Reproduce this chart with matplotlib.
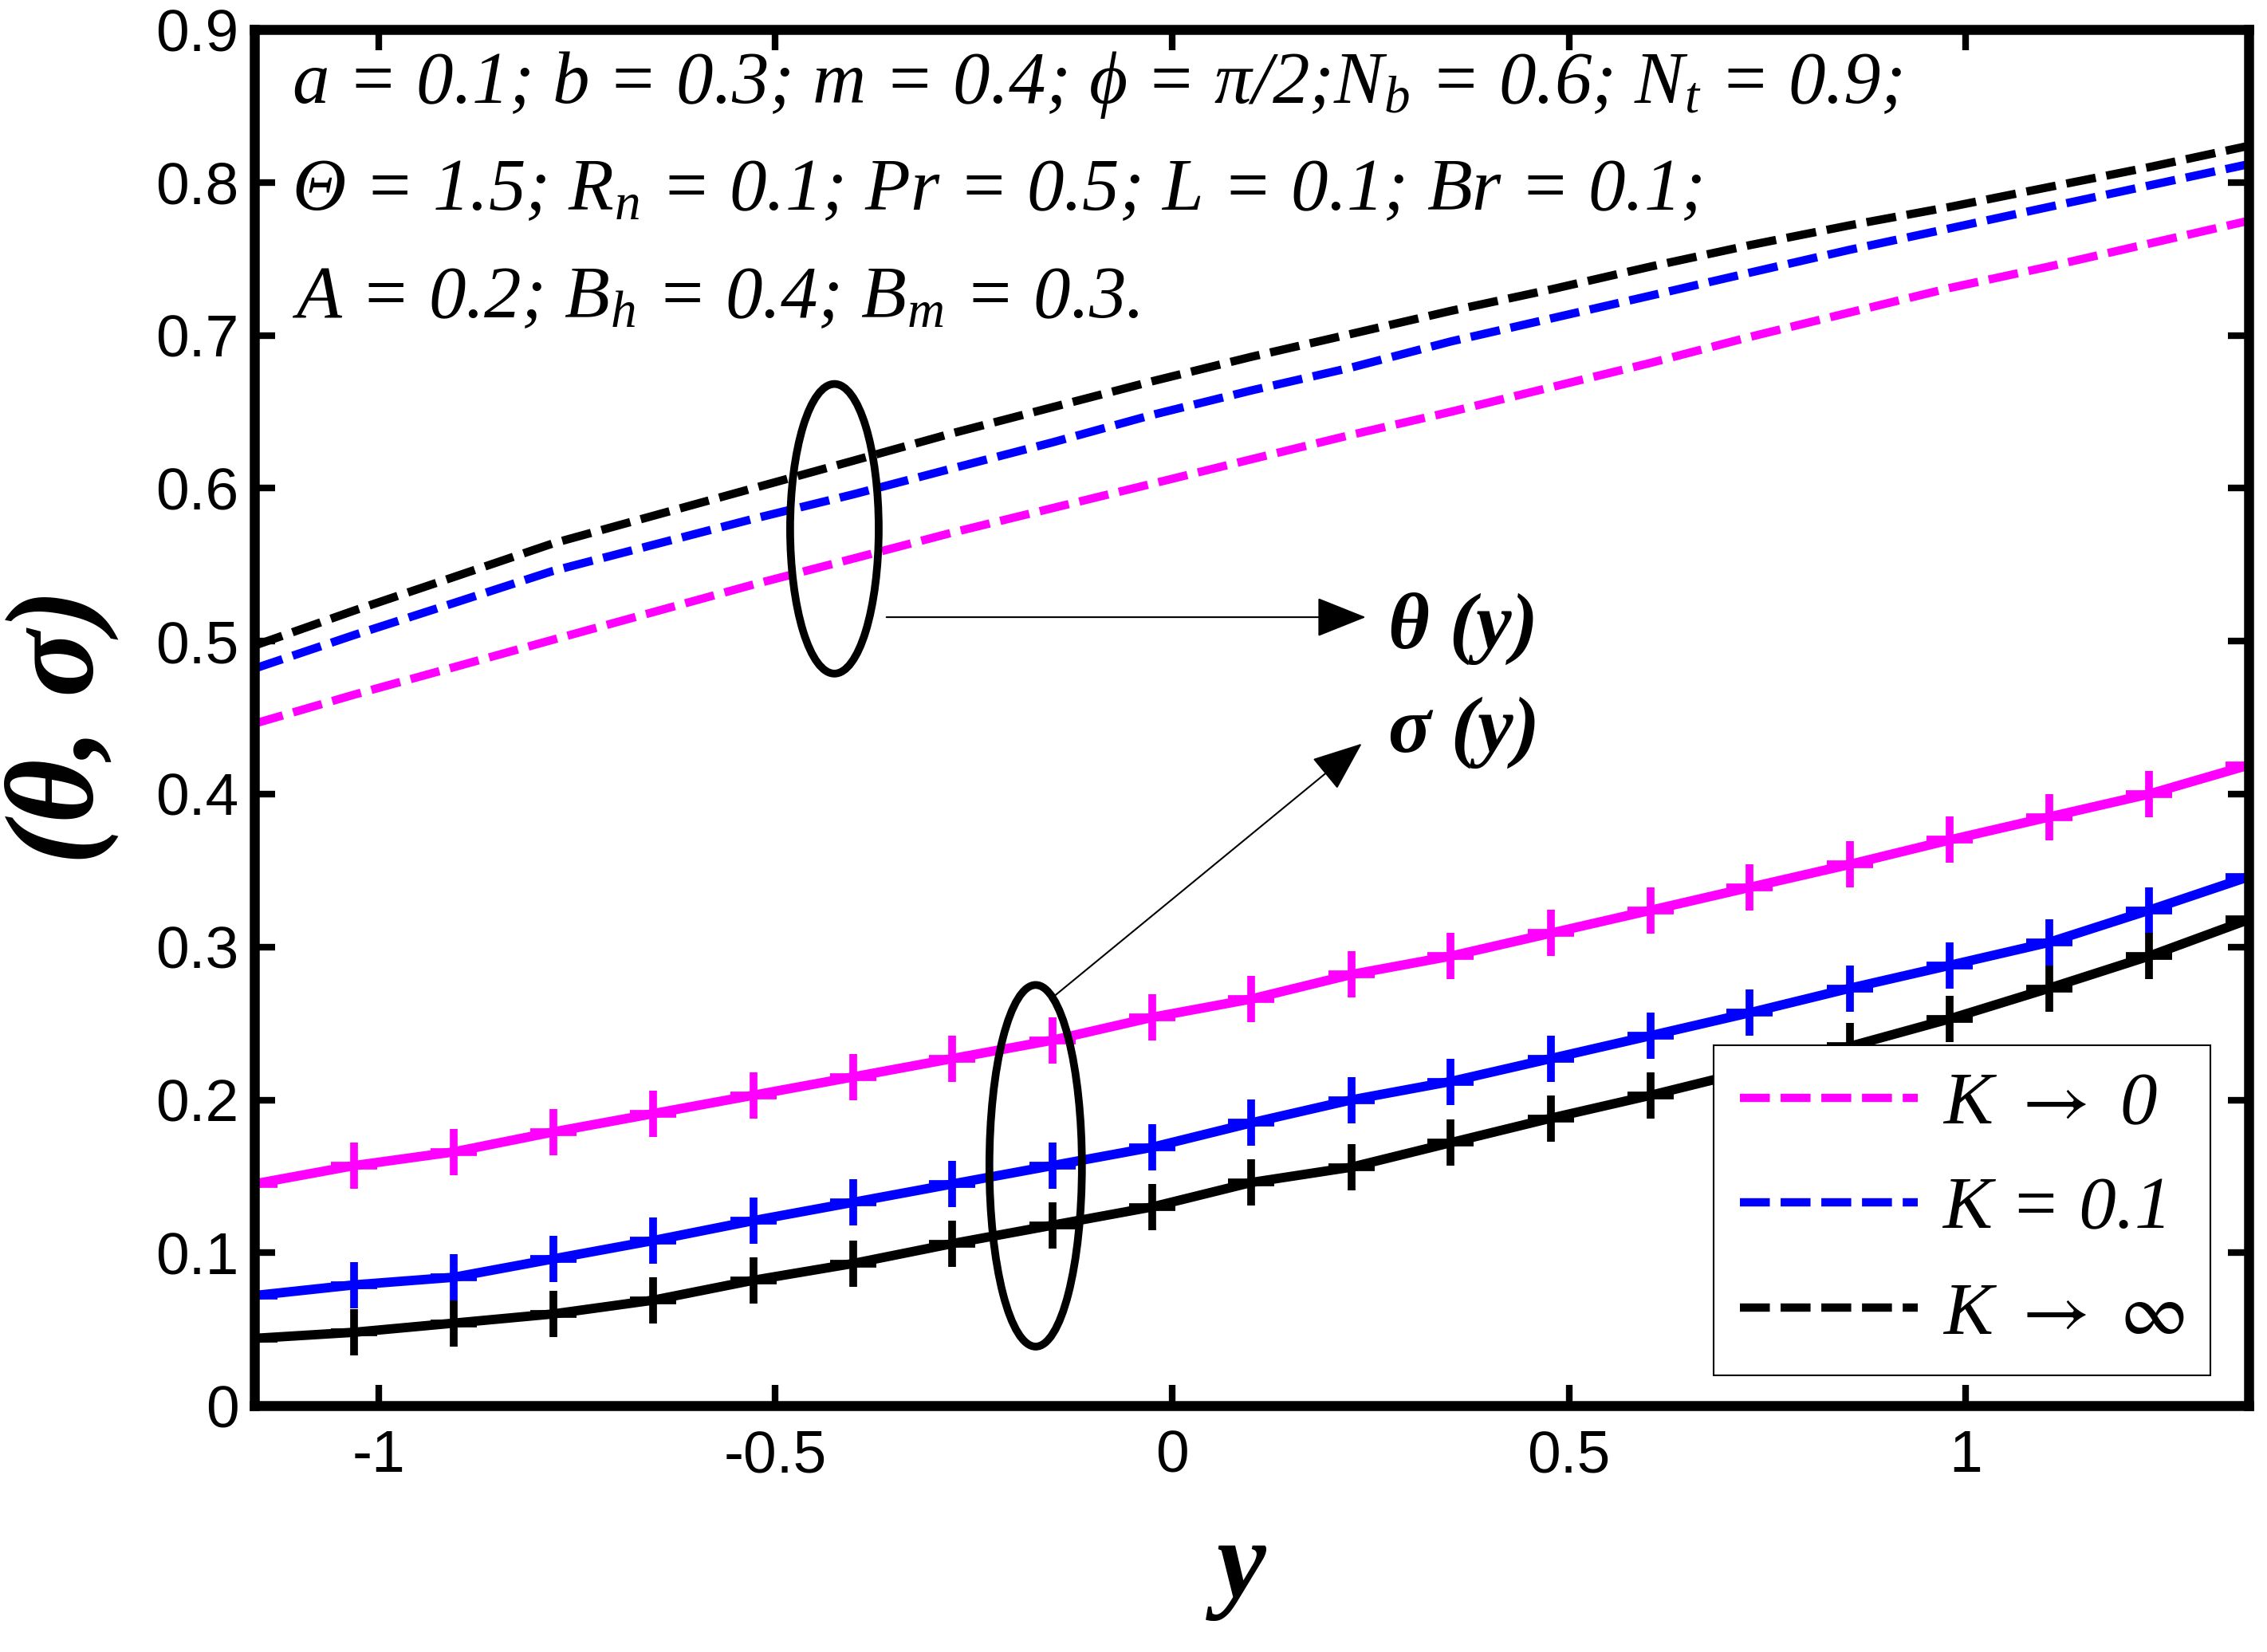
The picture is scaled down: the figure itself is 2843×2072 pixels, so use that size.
import matplotlib
matplotlib.use('Agg')
import matplotlib.pyplot as plt
from matplotlib.patches import Ellipse

plt.rcParams['mathtext.fontset'] = 'custom'
plt.rcParams['mathtext.it'] = 'Liberation Serif:italic'
plt.rcParams['mathtext.rm'] = 'Liberation Serif:italic'
plt.rcParams['mathtext.default'] = 'it'
plt.rcParams['axes.unicode_minus'] = False

# sample points across the channel (y)
y_pts = [-1.157, -1.031, -0.905, -0.780, -0.654, -0.528, -0.402, -0.277, -0.151, -0.025,
         0.100, 0.226, 0.351, 0.477, 0.603, 0.728, 0.854, 0.980, 1.105, 1.231, 1.357]

# temperature theta(y), dashed curves
theta_k0 = [0.446, 0.465, 0.483, 0.501, 0.519, 0.537, 0.554, 0.571, 0.587, 0.603,
            0.619, 0.635, 0.650, 0.666, 0.682, 0.699, 0.715, 0.731, 0.745, 0.760, 0.775]
theta_k01 = [0.482, 0.504, 0.525, 0.546, 0.563, 0.580, 0.596, 0.613, 0.630, 0.648,
             0.664, 0.679, 0.696, 0.711, 0.726, 0.741, 0.756, 0.770, 0.784, 0.798, 0.812]
theta_kinf = [0.497, 0.520, 0.542, 0.564, 0.582, 0.600, 0.618, 0.636, 0.653, 0.670,
              0.686, 0.701, 0.716, 0.730, 0.745, 0.759, 0.772, 0.784, 0.797, 0.810, 0.824]

# concentration sigma(y), solid curves with + markers
sigma_k0 = [0.145, 0.157, 0.166, 0.179, 0.191, 0.203, 0.215, 0.227, 0.239, 0.254,
            0.266, 0.282, 0.294, 0.309, 0.324, 0.339, 0.354, 0.370, 0.385, 0.400, 0.419]
sigma_k01 = [0.072, 0.079, 0.084, 0.096, 0.108, 0.121, 0.133, 0.145, 0.157, 0.169,
             0.185, 0.200, 0.212, 0.227, 0.242, 0.257, 0.273, 0.288, 0.303, 0.324, 0.346]
sigma_kinf = [0.044, 0.048, 0.054, 0.060, 0.069, 0.082, 0.093, 0.106, 0.118, 0.130,
              0.146, 0.156, 0.172, 0.188, 0.203, 0.219, 0.235, 0.253, 0.273, 0.294, 0.318]

labels = ['K $\\rightarrow$ 0', 'K = 0.1', 'K $\\rightarrow$ $\\infty$']
colors = ['#ff00ff', '#0000ff', '#000000']

x_ticks = [-1, -0.5, 0, 0.5, 1]
x_ticklabels = ['-1', '-0.5', '0', '0.5', '1']
y_ticks = [0, 0.1, 0.2, 0.3, 0.4, 0.5, 0.6, 0.7, 0.8, 0.9]
y_ticklabels = ['0', '0.1', '0.2', '0.3', '0.4', '0.5', '0.6', '0.7', '0.8', '0.9']

param_lines = [
    'a = 0.1; b = 0.3; m = 0.4; $\\phi$ = $\\pi$/2;N$_b$ = 0.6; N$_t$ = 0.9;',
    '\u0398 = 1.5; R$_n$ = 0.1; Pr = 0.5; L = 0.1; Br = 0.1;',
    'A = 0.2; B$_h$ = 0.4; B$_m$ = 0.3.',
]

fig = plt.figure(figsize=(28.43, 20.72), dpi=100)
ax = fig.add_axes([0.1122, 0.1491, 0.8797, 0.8330])

theta_sets = [theta_k0, theta_k01, theta_kinf]
sigma_sets = [sigma_k0, sigma_k01, sigma_kinf]
handles = []
for th, sg, c, lab in zip(theta_sets, sigma_sets, colors, labels):
    ax.plot(y_pts, sg, '-', color=c, lw=8.5, marker='+', ms=42, mew=7)
    h, = ax.plot(y_pts, th, color=c, lw=7.5, ls=(0, (3.6, 1.3)), label=lab)
    handles.append(h)

ax.set_xlim(-1.1566, 1.3566)
ax.set_ylim(0, 0.9)
ax.set_xticks(x_ticks)
ax.set_xticklabels(x_ticklabels)
ax.set_yticks(y_ticks)
ax.set_yticklabels(y_ticklabels)
ax.tick_params(direction='in', length=19, width=6, top=True, right=True,
               labelsize=54)
ax.tick_params(axis='x', pad=21)
ax.tick_params(axis='y', pad=14)
for lab in ax.get_xticklabels() + ax.get_yticklabels():
    lab.set_family('Liberation Sans')
for sp in ax.spines.values():
    sp.set_linewidth(9)

ax.set_xlabel('y', family='Liberation Serif', style='italic', weight='bold', fontsize=100)
ax.xaxis.set_label_coords(0.495, -0.083)
ax.set_ylabel('(\u03b8, \u03c3)', family='Liberation Serif', style='italic',
              weight='bold', fontsize=112, va='center')
ax.yaxis.set_label_coords(-0.0968, 0.4936)

# parameter block
for i, s in enumerate(param_lines):
    ax.text(0.0188, 0.947 - 0.078 * i, s, transform=ax.transAxes, va='baseline',
            ha='left', family='Liberation Serif', style='italic', fontsize=67)

# ellipses grouping the curves
ax.add_patch(Ellipse((-0.4256, 0.5735), 0.1116, 0.1894, fill=False, lw=7, color='k', zorder=5))
ax.add_patch(Ellipse((-0.172, 0.1569), 0.1166, 0.2365, fill=False, lw=7, color='k', zorder=5))

arrow = dict(arrowstyle='-|>,head_length=0.4,head_width=0.16', mutation_scale=100,
             lw=1.5, color='k', shrinkA=0, shrinkB=0)
ax.annotate('', xy=(0.244, 0.5157), xytext=(-0.36, 0.5157), arrowprops=arrow)
ax.annotate('', xy=(0.239, 0.433), xytext=(-0.149, 0.2677), arrowprops=arrow)
ax.text(0.272, 0.508, '\u03b8 (y)', family='Liberation Serif', style='italic',
        weight='bold', fontsize=72, va='center', ha='left')
ax.text(0.272, 0.440, '\u03c3 (y)', family='Liberation Serif', style='italic',
        weight='bold', fontsize=72, va='center', ha='left')

leg = ax.legend(handles=handles, loc='lower right', bbox_to_anchor=(0.981, 0.022),
                borderaxespad=0, fancybox=False, framealpha=1, edgecolor='k',
                prop=dict(family='Liberation Serif', style='italic', size=67,
                          math_fontfamily='stix'),
                handlelength=2.4, handletextpad=0.33, labelspacing=0.5, borderpad=0.35)
leg.get_frame().set_linewidth(1.5)
leg.set_zorder(6)

fig.savefig('out.png', dpi=100, facecolor='white')
